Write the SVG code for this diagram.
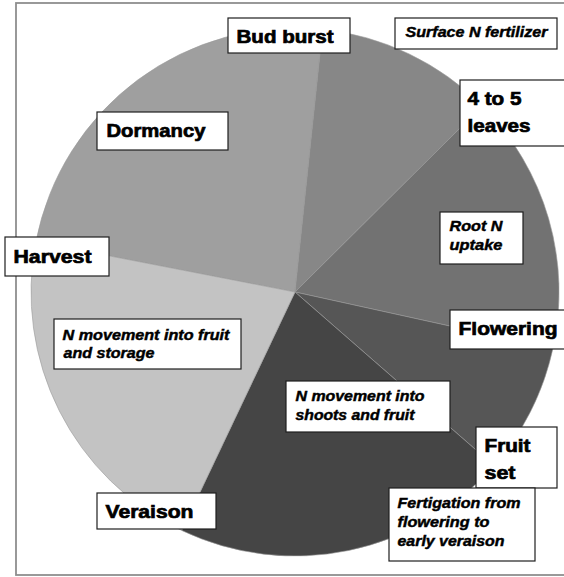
<svg xmlns="http://www.w3.org/2000/svg" width="564" height="577" viewBox="0 0 564 577">
<style>
.box{fill:#fff;stroke:#1e1e1e;stroke-width:1.2}
.stage{font-family:"Liberation Sans",Arial,sans-serif;font-weight:bold;font-size:18.5px;fill:#000;stroke:#000;stroke-width:0.7}
.note{font-family:"Liberation Sans",Arial,sans-serif;font-weight:bold;font-style:italic;font-size:14.5px;fill:#000;stroke:#000;stroke-width:0.45}
.sl{stroke:#9a9a9a;stroke-width:0.6;stroke-linejoin:round}
</style>
<rect x="0" y="0" width="564" height="577" fill="#fff"/>
<rect x="16" y="3" width="560" height="572" fill="#fff" stroke="#8e8e8e" stroke-width="1.8"/>
<g id="pie">
<path class="sl" fill="#9f9f9f" d="M295,292 L35.9,241.6 A264,264 0 0 1 322.6,29.4 Z"/>
<path class="sl" fill="#878787" d="M295,292 L322.6,29.4 A264,264 0 0 1 482.3,106 Z"/>
<path class="sl" fill="#727272" d="M295,292 L482.3,106 A264,264 0 0 1 552.9,348.7 Z"/>
<path class="sl" fill="#565656" d="M295,292 L552.9,348.7 A264,264 0 0 1 493.9,465.6 Z"/>
<path class="sl" fill="#454545" d="M295,292 L493.9,465.6 A264,264 0 0 1 181.8,530.5 Z"/>
<path class="sl" fill="#c3c3c3" d="M295,292 L181.8,530.5 A264,264 0 0 1 35.9,241.6 Z"/>
</g>
<g id="connectors"></g>
<g id="bud-burst"><rect class="box" x="228" y="18" width="122" height="35"/><text class="stage" x="236.5" y="43" textLength="97" lengthAdjust="spacingAndGlyphs">Bud burst</text></g>
<g id="surface-n"><rect class="box" x="395" y="18" width="162" height="31"/><text class="note" x="405.5" y="37" textLength="142" lengthAdjust="spacingAndGlyphs">Surface N fertilizer</text></g>
<g id="four-five-leaves"><rect class="box" x="460" y="80" width="120" height="66"/><text class="stage" x="467.5" y="105" textLength="54" lengthAdjust="spacingAndGlyphs">4 to 5</text><text class="stage" x="467.5" y="132" textLength="63" lengthAdjust="spacingAndGlyphs">leaves</text></g>
<g id="dormancy"><rect class="box" x="97" y="112" width="131" height="38"/><text class="stage" x="106.5" y="137" textLength="99" lengthAdjust="spacingAndGlyphs">Dormancy</text></g>
<g id="root-n"><rect class="box" x="440" y="212" width="83" height="52"/><text class="note" x="449.5" y="231" textLength="53" lengthAdjust="spacingAndGlyphs">Root N</text><text class="note" x="449.5" y="250" textLength="53" lengthAdjust="spacingAndGlyphs">uptake</text></g>
<g id="harvest"><rect class="box" x="5" y="237" width="104" height="39"/><text class="stage" x="13.5" y="263" textLength="78" lengthAdjust="spacingAndGlyphs">Harvest</text></g>
<g id="flowering"><rect class="box" x="450" y="310" width="130" height="39"/><text class="stage" x="458.5" y="335" textLength="99" lengthAdjust="spacingAndGlyphs">Flowering</text></g>
<g id="n-fruit-storage"><rect class="box" x="54" y="319" width="187" height="50"/><text class="note" x="62.5" y="340" textLength="167" lengthAdjust="spacingAndGlyphs">N movement into fruit</text><text class="note" x="63.5" y="358" textLength="91" lengthAdjust="spacingAndGlyphs">and storage</text></g>
<g id="n-shoots-fruit"><rect class="box" x="286" y="381" width="164" height="51"/><text class="note" x="295.5" y="401" textLength="129" lengthAdjust="spacingAndGlyphs">N movement into</text><text class="note" x="295.5" y="420" textLength="119" lengthAdjust="spacingAndGlyphs">shoots and fruit</text></g>
<g id="fruit-set"><rect class="box" x="476" y="427" width="81" height="61"/><text class="stage" x="484.5" y="452" textLength="46" lengthAdjust="spacingAndGlyphs">Fruit</text><text class="stage" x="484.5" y="479" textLength="31" lengthAdjust="spacingAndGlyphs">set</text></g>
<g id="veraison"><rect class="box" x="97" y="493" width="119" height="36"/><text class="stage" x="105.5" y="518" textLength="88" lengthAdjust="spacingAndGlyphs">Veraison</text></g>
<g id="fertigation"><rect class="box" x="389" y="488" width="146" height="73"/><text class="note" x="397.5" y="508" textLength="123" lengthAdjust="spacingAndGlyphs">Fertigation from</text><text class="note" x="397.5" y="527" textLength="92" lengthAdjust="spacingAndGlyphs">flowering to</text><text class="note" x="397.5" y="546" textLength="107" lengthAdjust="spacingAndGlyphs">early veraison</text></g>
</svg>
